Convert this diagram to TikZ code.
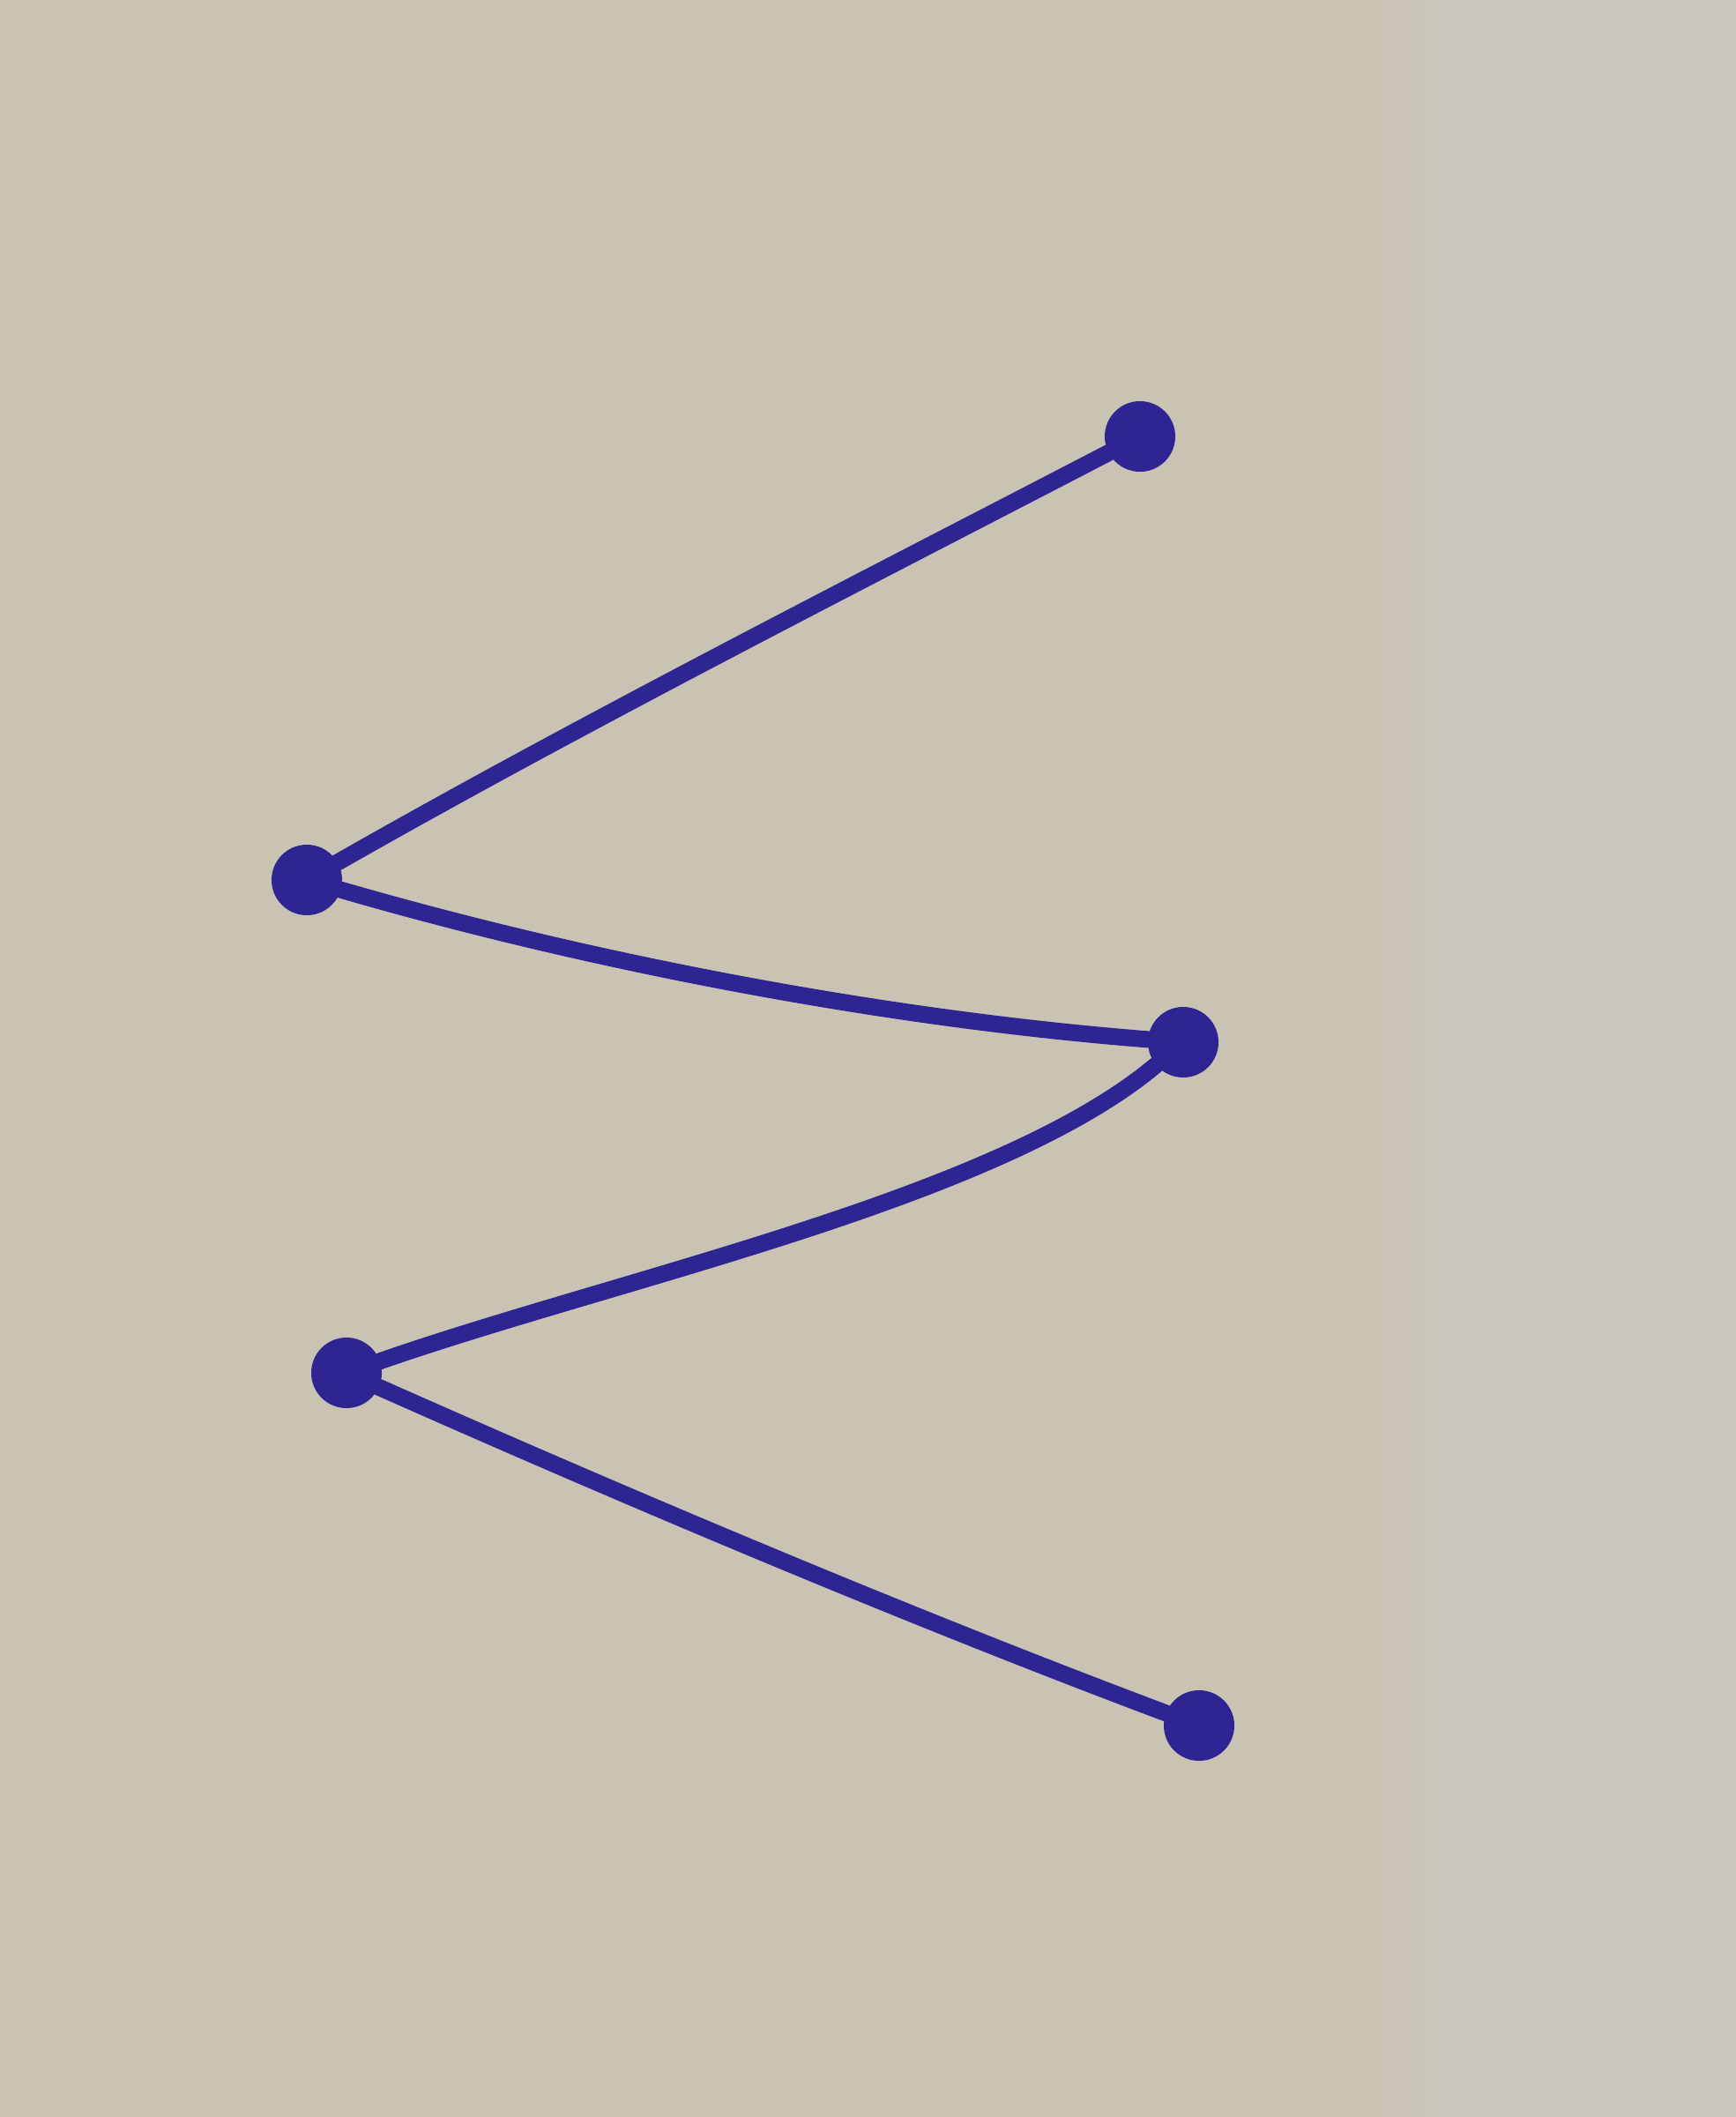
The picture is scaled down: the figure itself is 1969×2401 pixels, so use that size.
\documentclass[tikz,border=0pt]{standalone}
\begin{document}
\begin{tikzpicture}[x=1pt,y=-1pt,
  ink/.style={draw=inkc,line width=19pt,line cap=round,line join=round},
  dot/.style={circle,fill=inkc,minimum size=80pt,inner sep=0pt}]
\definecolor{inkc}{RGB}{46,36,146}
\definecolor{paper}{RGB}{201,195,180}
\definecolor{paperR}{RGB}{203,200,191}
\fill[paper] (0,0) rectangle (1969,2401);
\shade[left color=paper,right color=paperR] (1560,0) rectangle (1660,2401);
\fill[paperR] (1660,0) rectangle (1969,2401);
\useasboundingbox (0,0) rectangle (1969,2401);
\node[dot] (A) at (1293,495) {};
\node[dot] (B) at (348,998) {};
\node[dot] (C) at (1342,1182) {};
\node[dot] (D) at (393,1557) {};
\node[dot] (E) at (1360,1957) {};
\draw[ink] (A) .. controls (985,655) and (660,820) .. (B);
\draw[ink] (B) .. controls (679,1094) and (1011,1156) .. (C);
\draw[ink] (C) .. controls (1130,1360) and (700,1450) .. (D);
\draw[ink] (D) .. controls (715,1700) and (1035,1835) .. (E);
\end{tikzpicture}
\end{document}
